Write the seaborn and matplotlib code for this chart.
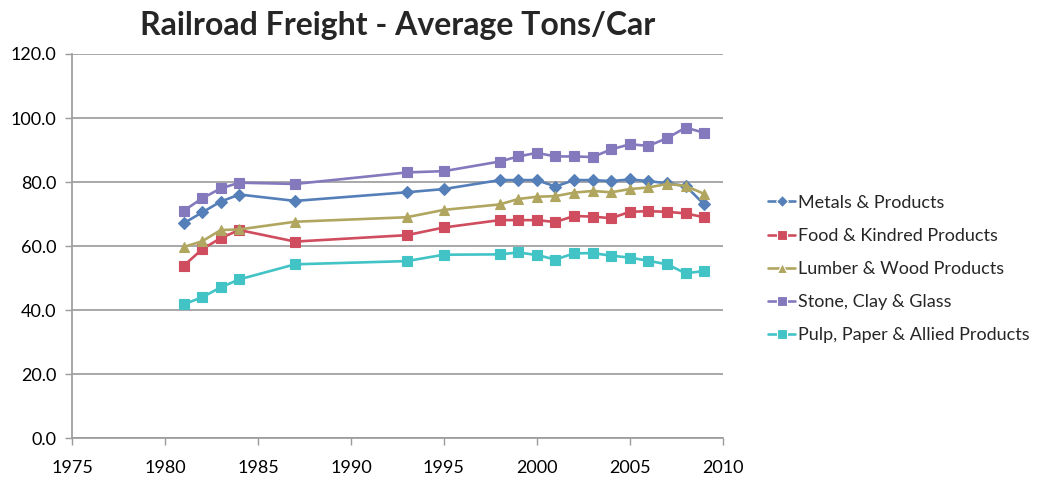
import pandas as pd
import numpy as np
import matplotlib
matplotlib.use("Agg")
import matplotlib.pyplot as plt
import seaborn as sns

# ── Datos ────────────────────────────────────────────────────
years = [1981, 1982, 1983, 1984, 1987, 1993, 1995, 1998, 1999, 2000,
         2001, 2002, 2003, 2004, 2005, 2006, 2007, 2008, 2009]

metals = [67.1, 70.5, 73.9, 76.1, 74.1, 76.8, 77.8, 80.6, 80.6, 80.6,
          78.6, 80.6, 80.6, 80.3, 80.8, 80.3, 79.6, 78.8, 73.0]
food = [53.8, 59.0, 62.5, 65.0, 61.4, 63.4, 65.8, 68.1, 68.1, 68.1,
        67.5, 69.4, 69.2, 68.7, 70.7, 70.9, 70.7, 70.2, 69.0]
lumber = [59.7, 61.5, 65.0, 65.2, 67.6, 69.0, 71.3, 73.0, 74.7, 75.4,
          75.6, 76.7, 77.2, 76.8, 77.8, 78.3, 79.4, 78.8, 76.3]
stone = [71.0, 74.9, 78.0, 79.8, 79.4, 83.0, 83.4, 86.4, 88.0, 89.1,
         88.0, 88.0, 87.8, 90.2, 91.8, 91.3, 93.7, 97.0, 95.4]
pulp = [41.8, 44.0, 47.1, 49.6, 54.3, 55.3, 57.3, 57.4, 58.0, 57.2,
        55.8, 57.7, 57.8, 57.0, 56.4, 55.4, 54.3, 51.5, 52.2]

series = ["Metals & Products", "Food & Kindred Products",
          "Lumber & Wood Products", "Stone, Clay & Glass",
          "Pulp, Paper & Allied Products"]
valores = [metals, food, lumber, stone, pulp]

colores = ["#557FB8", "#CF4D5E", "#B0A660", "#8579BE", "#42C3C6"]
marcadores = ["D", "s", "^", "s", "s"]

df = pd.DataFrame({
    "year": np.tile(years, len(series)),
    "tons": np.concatenate(valores),
    "serie": np.repeat(series, len(years)),
})

# ── Estilo ───────────────────────────────────────────────────
sns.set_theme(style="white")
plt.rcParams["font.family"] = ["Lato", "DejaVu Sans"]

fig = plt.figure(figsize=(10.43, 4.82), dpi=100)
ax = fig.add_axes([0.069, 0.091, 0.624, 0.797])

sns.lineplot(data=df, x="year", y="tons", hue="serie", style="serie",
             palette=dict(zip(series, colores)),
             markers=dict(zip(series, marcadores)),
             dashes=False, linewidth=1.9, markersize=6.5,
             markeredgewidth=0.8, ax=ax)

for line, c in zip(ax.lines, colores):
    line.set_markeredgecolor(c)

ax.set_xlim(1975, 2010)
ax.set_ylim(0, 120)
ax.set_xticks(range(1975, 2011, 5))
ax.set_yticks(range(0, 121, 20))
ax.set_yticklabels([f"{v:.1f}" for v in range(0, 121, 20)])
ax.set_xlabel("")
ax.set_ylabel("")
ax.yaxis.grid(True, color="#9A9A9A", linewidth=1.2)
ax.set_axisbelow(True)
for lado in ["top", "right"]:
    ax.spines[lado].set_visible(False)
for lado in ["left", "bottom"]:
    ax.spines[lado].set_color("#9A9A9A")
    ax.spines[lado].set_linewidth(1.2)
ax.tick_params(axis="both", labelsize=13, colors="#9A9A9A",
               labelcolor="black", length=5, width=1, direction="out",
               left=True, bottom=True, pad=6)
ax.tick_params(axis="x", pad=11)

ax.set_title("Railroad Freight - Average Tons/Car", fontsize=23,
             fontweight="bold", pad=14)

leg = ax.legend(loc="center left", bbox_to_anchor=(1.045, 0.44),
                frameon=False, fontsize=13, handlelength=1.5,
                handletextpad=0.15, labelspacing=0.95)

fig.savefig("out.png", dpi=100)
